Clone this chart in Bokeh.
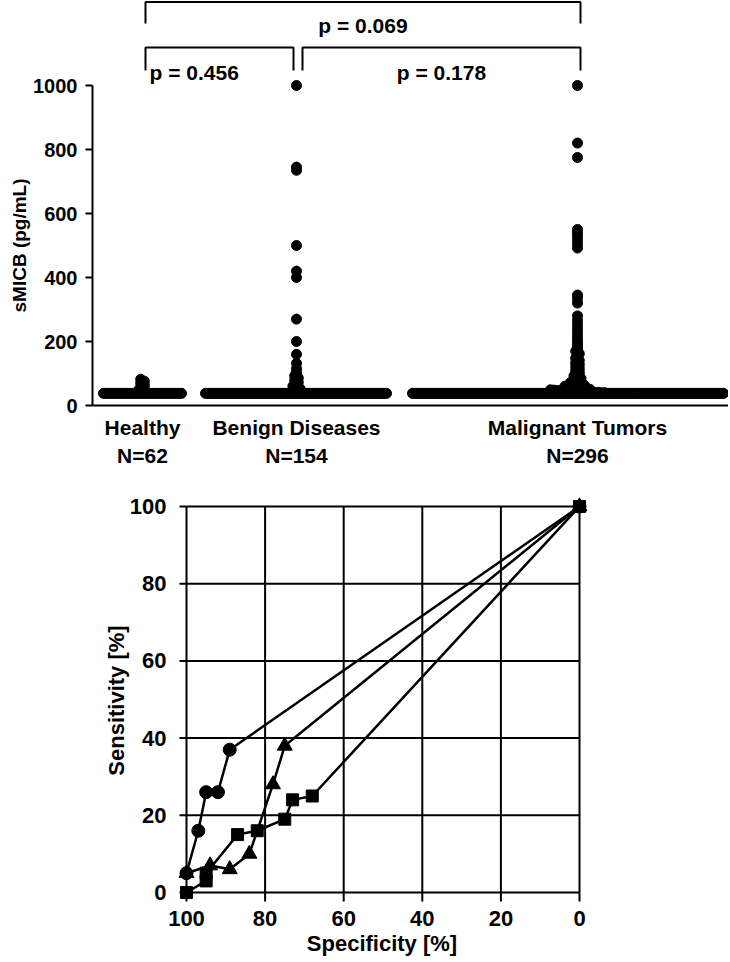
import numpy as np
from bokeh.plotting import figure
from bokeh.models import Range1d, FixedTicker, LinearAxis, Title
from bokeh.embed import file_html
from bokeh.resources import INLINE
from bokeh.core.properties import value

# ---------------- data: sMICB dot plot ----------------
groups = ["Healthy", "Benign Diseases", "Malignant Tumors"]
group_n = [62, 154, 296]
detect_limit = 38  # pg/mL; samples below detection drawn on this level
healthy_above = [82, 76, 70, 64, 58, 53, 49, 46, 43]
benign_above = [1000, 745, 735, 500, 420, 400, 270, 200, 160, 132, 115, 102,
                93, 86, 79, 72, 66, 60, 56, 52, 48, 45, 43]
malignant_above = [1000, 820, 775, 550, 540, 530, 518, 505, 492, 345, 334, 320,
                   280, 266, 252, 240, 228, 216, 205, 195, 186, 178, 170, 162,
                   155, 148, 141, 134, 128, 122, 116, 110, 105, 100, 96, 92,
                   88, 84, 80, 77, 74, 71, 68, 66, 64, 62, 60, 58, 56, 55,
                   54, 52, 51, 50, 49, 48, 47, 46, 45, 45, 44, 44, 43, 43,
                   42, 42, 41, 41, 40, 40]
smicb_ticks = [0, 200, 400, 600, 800, 1000]
comparisons = [(0, 1, "p = 0.456"), (1, 2, "p = 0.178"), (0, 2, "p = 0.069")]

# ---------------- data: ROC curves ----------------
roc_ticks = [0, 20, 40, 60, 80, 100]
circ_spec = [100, 97, 95, 92, 89, 0]
circ_sens = [5, 16, 26, 26, 37, 100]
tri_spec = [100, 94, 89, 84, 78, 75, 0]
tri_sens = [5, 7, 6, 10, 28, 38, 100]
sq_spec = [100, 95, 95, 87, 82, 75, 73, 68, 0]
sq_sens = [0, 3, 5, 15, 16, 19, 24, 25, 100]

# ---------------- styling / layout ----------------
FONT = "Liberation Sans"
BLACK = "#000000"

group_vals = []
for above, n in zip([healthy_above, benign_above, malignant_above], group_n):
    group_vals.append(list(above) + [detect_limit] * (n - len(above)))

# column layout (x units = pixels across the frame)
X0, X1 = 92, 728
centers = [142, 296, 577]
bands = [(103, 181), (205, 386), (412, 723)]


def swarm(vals, center, band, bin_size=11.0, step=3.6):
    vals = np.asarray(vals, float)
    xs = np.empty(len(vals))
    lod = np.where(vals == detect_limit)[0]
    xs[lod] = np.linspace(band[0], band[1], len(lod))
    rest = np.where(vals != detect_limit)[0]
    bins = np.round(vals[rest] / bin_size).astype(int)
    for b in np.unique(bins):
        ii = rest[bins == b]
        n = len(ii)
        xs[ii] = center + (np.arange(n) - (n - 1) / 2) * step
    return xs, vals


TOP_FH = 405
TOP_PX_PER_UNIT = 0.32
top = figure(frame_width=X1 - X0, frame_height=TOP_FH,
             x_range=Range1d(X0, X1), y_range=Range1d(0, TOP_FH / TOP_PX_PER_UNIT),
             min_border_left=X0, min_border_right=0, min_border_top=0,
             min_border_bottom=80, output_backend="svg", toolbar_location=None)
top.outline_line_color = None
top.grid.visible = False

for vals, c, band in zip(group_vals, centers, bands):
    xs, ys = swarm(vals, c, band)
    top.scatter(xs, ys, marker="circle", size=10, fill_color=BLACK, line_color=BLACK)

# significance brackets
lower = (1119, 1047, 1041)
upper = (1261, 1194, 1189)
for (i, j, lab) in comparisons:
    xl = centers[i] + (6 if i == 1 else 3)
    xr = centers[j] + (-3 if j == 1 else 3)
    h, v, ty = upper if (j - i) == 2 else lower
    top.line([xl, xl, xr, xr], [v, h, h, v], line_color=BLACK, line_width=2)
    if i == 0 and j == 1:
        tx, al = xl + 4, "left"
    else:
        tx, al = (xl + xr) / 2, "center"
    top.text([tx], [ty], text=[lab], text_align=al, text_baseline="middle",
             text_font=value(FONT), text_font_style="bold", text_font_size="21px",
             text_color=BLACK)

ya = top.yaxis[0]
ya.ticker = FixedTicker(ticks=smicb_ticks)
ya.bounds = (0, 1000)
ya.axis_line_width = 2
ya.major_tick_line_width = 2
ya.major_tick_out = 7
ya.major_tick_in = 0
ya.minor_tick_line_color = None
ya.major_label_standoff = 8
ya.major_label_text_font = FONT
ya.major_label_text_font_style = "bold"
ya.major_label_text_font_size = "20px"
ya.major_label_text_color = BLACK

# y-axis title, placed along the 0..1000 part of the axis
top.add_layout(Title(text="sMICB (pg/mL)", align="left", offset=93, standoff=2,
                     text_font=FONT, text_font_style="bold",
                     text_font_size="19px", text_color=BLACK), "left")

xa = top.xaxis[0]
xa.ticker = FixedTicker(ticks=centers)
xa.major_label_overrides = {c: g for c, g in zip(centers, groups)}
xa.axis_line_width = 2
xa.major_tick_line_color = None
xa.minor_tick_line_color = None
xa.major_label_standoff = 4
xa.major_label_text_font = FONT
xa.major_label_text_font_style = "bold"
xa.major_label_text_font_size = "21px"
xa.major_label_text_color = BLACK

na = LinearAxis(ticker=FixedTicker(ticks=centers),
                major_label_overrides={c: f"N={n}" for c, n in zip(centers, group_n)},
                axis_line_color=None, major_tick_line_color=None,
                minor_tick_line_color=None, major_label_standoff=-4,
                major_label_text_font=FONT, major_label_text_font_style="bold",
                major_label_text_font_size="21px", major_label_text_color=BLACK)
top.add_layout(na, "below")

# ---------------- ROC ----------------
FW, FH = 415, 408
PADL, PADR, PADB, PADT = 12, 10, 12, 10
kx = (FW - PADL - PADR) / 100.0
ky = (FH - PADB - PADT) / 100.0
roc = figure(frame_width=FW, frame_height=FH,
             x_range=Range1d(100 + PADL / kx, 0 - PADR / kx),
             y_range=Range1d(0 - PADB / ky, 100 + PADT / ky),
             min_border_left=174, min_border_right=10, min_border_top=11,
             min_border_bottom=50, output_backend="svg", toolbar_location=None)
roc.outline_line_color = None
roc.grid.visible = False

t = np.array(roc_ticks, float)
lo, hi = min(roc_ticks), max(roc_ticks)
# grid inside the 0..100 box
roc.segment(x0=t, y0=np.full(len(t), lo), x1=t, y1=np.full(len(t), hi),
            line_color=BLACK, line_width=2)
roc.segment(x0=np.full(len(t), lo), y0=t, x1=np.full(len(t), hi), y1=t,
            line_color=BLACK, line_width=2)
# outward tick marks
roc.segment(x0=np.full(len(t), hi), y0=t, x1=np.full(len(t), hi + 7 / kx), y1=t,
            line_color=BLACK, line_width=2)
roc.segment(x0=t, y0=np.full(len(t), lo), x1=t, y1=np.full(len(t), lo - 9 / ky),
            line_color=BLACK, line_width=2)

for xs, ys, mk, sz in [(sq_spec, sq_sens, "square", 12),
                       (tri_spec, tri_sens, "triangle", 15),
                       (circ_spec, circ_sens, "circle", 13)]:
    roc.line(xs, ys, line_color=BLACK, line_width=2.5)
    roc.scatter(xs, ys, marker=mk, size=sz, fill_color=BLACK, line_color=BLACK)

for ax in (roc.xaxis[0], roc.yaxis[0]):
    ax.ticker = FixedTicker(ticks=roc_ticks)
    ax.axis_line_color = None
    ax.major_tick_line_color = None
    ax.minor_tick_line_color = None
    ax.major_label_text_font = FONT
    ax.major_label_text_font_style = "bold"
    ax.major_label_text_font_size = "22px"
    ax.major_label_text_color = BLACK
    ax.axis_label_text_font = FONT
    ax.axis_label_text_font_style = "bold"
    ax.axis_label_text_font_size = "22px"
    ax.axis_label_text_color = BLACK
roc.xaxis[0].major_label_standoff = 0
roc.yaxis[0].major_label_standoff = 2
roc.xaxis[0].axis_label = "Specificity [%]"
roc.xaxis[0].axis_label_standoff = 2
roc.yaxis[0].axis_label = "Sensitivity [%]"
roc.yaxis[0].axis_label_standoff = -2

open("out.html", "w").write(file_html([top, roc], INLINE))
